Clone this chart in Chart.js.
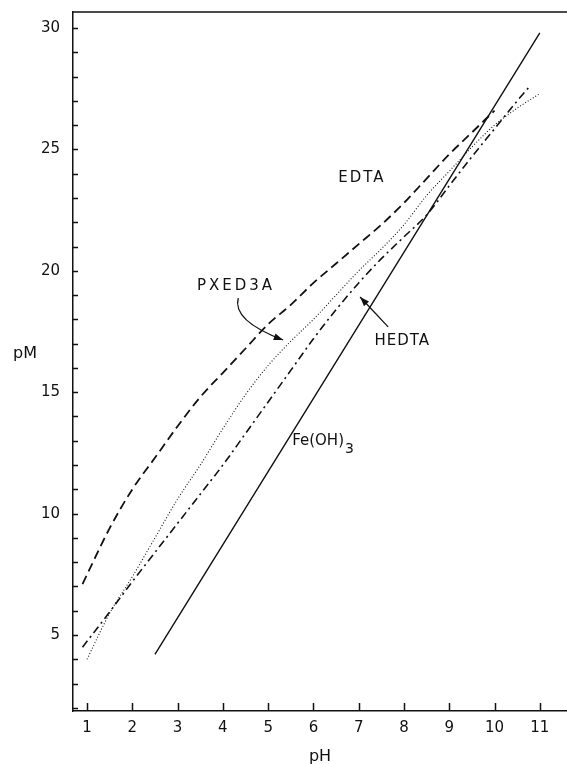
<!DOCTYPE html>
<html>
<head>
<meta charset="utf-8">
<script src="https://cdn.jsdelivr.net/npm/chart.js@4.4.1/dist/chart.umd.min.js"></script>
<style>
  html, body { margin: 0; padding: 0; background: #fff; }
  #wrap { width: 567px; height: 764px; }
</style>
</head>
<body>
<div id="wrap"><canvas id="pmChart" width="567" height="764"></canvas></div>
<script>
// tick values
const phTicks = [1, 2, 3, 4, 5, 6, 7, 8, 9, 10, 11];
const pmTicks = [2, 3, 4, 5, 6, 7, 8, 9, 10, 11, 12, 13, 14, 15, 16, 17, 18, 19, 20, 21, 22, 23, 24, 25, 26, 27, 28, 29, 30];

// EDTA (dashed)
const edtaPH = [0.9, 1.5, 2, 2.5, 3, 3.5, 4, 4.5, 5, 5.5, 6, 6.5, 7, 7.5, 8, 8.5, 9, 9.5, 10];
const edtaPM = [7.1, 9.4, 11.0, 12.3, 13.6, 14.8, 15.8, 16.8, 17.8, 18.6, 19.5, 20.3, 21.1, 21.9, 22.8, 23.8, 24.8, 25.7, 26.6];

// PXED3A (dotted)
const pxed3aPH = [1, 1.5, 2, 2.5, 3, 3.5, 4, 4.5, 5, 5.5, 6, 6.5, 7, 7.5, 8, 8.5, 9, 9.5, 10, 10.5, 11];
const pxed3aPM = [4.0, 5.9, 7.4, 9.0, 10.6, 12.0, 13.5, 14.9, 16.1, 17.1, 18.0, 19.0, 20.0, 20.9, 21.9, 23.1, 24.1, 25.1, 26.0, 26.7, 27.3];

// HEDTA (dash-dot)
const hedtaPH = [0.9, 1.5, 2, 2.5, 3, 3.5, 4, 4.5, 5, 5.5, 6, 6.5, 7, 7.5, 8, 8.5, 9, 9.5, 10, 10.5, 10.8];
const hedtaPM = [4.5, 5.95, 7.2, 8.4, 9.6, 10.8, 12.0, 13.3, 14.6, 15.9, 17.2, 18.4, 19.5, 20.5, 21.4, 22.3, 23.5, 24.7, 25.85, 27.0, 27.65];

// Fe(OH)3 (solid)
const feohPH = [2.5, 11];
const feohPM = [4.2, 29.8];

const toPoints = (xs, ys) => xs.map((v, i) => ({ x: v, y: ys[i] }));

// labels and arrows, placed in data units
const labels = [
  { text: 'EDTA', ph: 7.07, pm: 23.8, spacing: '2px' },
  { text: 'PXED3A', ph: 4.29, pm: 19.37, spacing: '3px' },
  { text: 'HEDTA', ph: 7.96, pm: 17.1, spacing: '1px' }
];
const feLabel = { ph: 5.53, pm: 13.0 };

const frameAndLabels = {
  id: 'frameAndLabels',
  afterDraw(chart) {
    const { ctx, chartArea, scales: { x, y } } = chart;
    ctx.save();
    ctx.strokeStyle = '#111';
    ctx.fillStyle = '#111';
    ctx.lineWidth = 1.5;

    // top frame + inward tick marks
    ctx.beginPath();
    ctx.moveTo(chartArea.left, chartArea.top);
    ctx.lineTo(chartArea.right, chartArea.top);
    x.ticks.forEach(t => {
      const px = Math.round(x.getPixelForValue(t.value)) + 0.5;
      ctx.moveTo(px, chartArea.bottom);
      ctx.lineTo(px, chartArea.bottom - 8);
    });
    y.ticks.forEach(t => {
      const py = Math.round(y.getPixelForValue(t.value)) + 0.5;
      ctx.moveTo(chartArea.left, py);
      ctx.lineTo(chartArea.left + 5, py);
    });
    ctx.stroke();

    // curve labels
    ctx.font = '15px "DejaVu Sans", sans-serif';
    ctx.textAlign = 'center';
    ctx.textBaseline = 'middle';
    labels.forEach(l => {
      ctx.letterSpacing = l.spacing;
      ctx.fillText(l.text, x.getPixelForValue(l.ph), y.getPixelForValue(l.pm));
    });
    ctx.letterSpacing = '0px';

    // Fe(OH)3 with subscript
    ctx.textAlign = 'left';
    const fx = x.getPixelForValue(feLabel.ph);
    const fy = y.getPixelForValue(feLabel.pm);
    ctx.fillText('Fe(OH)', fx, fy);
    const w = ctx.measureText('Fe(OH)').width;
    ctx.font = '14px "DejaVu Sans", sans-serif';
    ctx.fillText('3', fx + w + 1, fy + 9);

    // pM axis title, horizontal
    ctx.font = '16px "DejaVu Sans", sans-serif';
    ctx.textAlign = 'center';
    ctx.fillText('pM', 25, y.getPixelForValue(16.6));

    // arrows
    const arrowHead = (x0, y0, x1, y1) => {
      const a = Math.atan2(y1 - y0, x1 - x0);
      ctx.beginPath();
      ctx.moveTo(x1, y1);
      ctx.lineTo(x1 - 10 * Math.cos(a - 0.35), y1 - 10 * Math.sin(a - 0.35));
      ctx.lineTo(x1 - 10 * Math.cos(a + 0.35), y1 - 10 * Math.sin(a + 0.35));
      ctx.closePath();
      ctx.fill();
    };
    ctx.lineWidth = 1.3;
    // PXED3A curved arrow
    const p0 = [x.getPixelForValue(4.34), y.getPixelForValue(18.88)];
    const pc = [x.getPixelForValue(4.2), y.getPixelForValue(17.95)];
    const p1 = [x.getPixelForValue(5.33), y.getPixelForValue(17.15)];
    ctx.beginPath();
    ctx.moveTo(p0[0], p0[1]);
    ctx.quadraticCurveTo(pc[0], pc[1], p1[0], p1[1]);
    ctx.stroke();
    arrowHead(pc[0], pc[1], p1[0], p1[1]);
    // HEDTA straight arrow
    const h0 = [x.getPixelForValue(7.65), y.getPixelForValue(17.69)];
    const h1 = [x.getPixelForValue(7.03), y.getPixelForValue(18.92)];
    ctx.beginPath();
    ctx.moveTo(h0[0], h0[1]);
    ctx.lineTo(h1[0], h1[1]);
    ctx.stroke();
    arrowHead(h0[0], h0[1], h1[0], h1[1]);

    ctx.restore();
  }
};

const lineDefaults = {
  showLine: true,
  pointRadius: 0,
  borderColor: '#111',
  fill: false,
  cubicInterpolationMode: 'monotone'
};

const ctx = document.getElementById('pmChart').getContext('2d');
new Chart(ctx, {
  type: 'scatter',
  data: {
    datasets: [
      { ...lineDefaults, label: 'EDTA', data: toPoints(edtaPH, edtaPM), borderWidth: 1.8, borderDash: [9, 5] },
      { ...lineDefaults, label: 'PXED3A', data: toPoints(pxed3aPH, pxed3aPM), borderWidth: 1.1, borderDash: [1, 2] },
      { ...lineDefaults, label: 'HEDTA', data: toPoints(hedtaPH, hedtaPM), borderWidth: 1.6, borderDash: [8, 4, 2, 4] },
      { ...lineDefaults, label: 'Fe(OH)3', data: toPoints(feohPH, feohPM), borderWidth: 1.4 }
    ]
  },
  options: {
    responsive: false,
    animation: false,
    layout: { padding: { top: 12, right: 0, left: 0, bottom: 0 } },
    plugins: { legend: { display: false }, tooltip: { enabled: false } },
    scales: {
      x: {
        type: 'linear',
        min: 0.69,
        max: 11.6,
        afterBuildTicks: s => { s.ticks = phTicks.map(v => ({ value: v })); },
        afterFit: s => { s.height = 53; s.paddingLeft = 0; s.paddingRight = 0; },
        grid: { display: false, drawTicks: false },
        border: { display: true, color: '#111', width: 1.5 },
        ticks: {
          autoSkip: false,
          maxRotation: 0,
          padding: 8,
          color: '#111',
          font: { family: '"DejaVu Sans", sans-serif', size: 15 },
          callback: v => String(v)
        },
        title: {
          display: true,
          text: 'pH',
          color: '#111',
          font: { family: '"DejaVu Sans", sans-serif', size: 16 },
          padding: { top: 0, bottom: -2 }
        }
      },
      y: {
        type: 'linear',
        min: 1.87,
        max: 30.66,
        afterBuildTicks: s => { s.ticks = pmTicks.map(v => ({ value: v })); },
        afterFit: s => { s.width = 73; s.paddingTop = 0; s.paddingBottom = 0; },
        grid: { display: false, drawTicks: false },
        border: { display: true, color: '#111', width: 1.5 },
        ticks: {
          autoSkip: false,
          padding: 13,
          color: '#111',
          font: { family: '"DejaVu Sans", sans-serif', size: 15 },
          callback: v => (v % 5 === 0 ? String(v) : '')
        }
      }
    }
  },
  plugins: [frameAndLabels]
});
</script>
</body>
</html>
